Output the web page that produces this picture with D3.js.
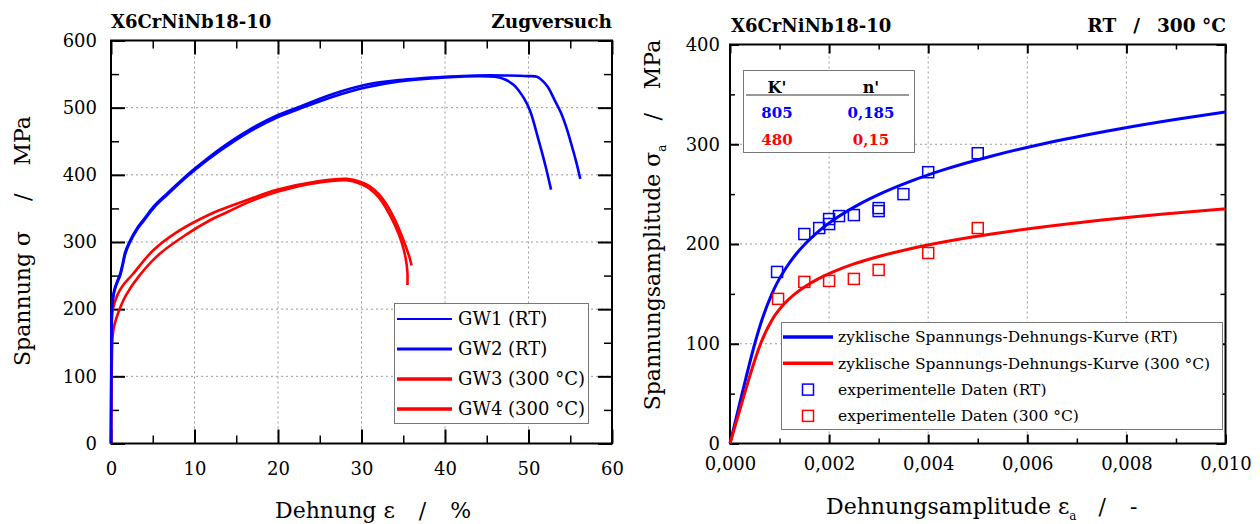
<!DOCTYPE html>
<html>
<head>
<meta charset="utf-8">
<script src="https://cdn.jsdelivr.net/npm/d3@7"></script>
<style>
  body { margin: 0; background: #fff; }
  svg text { font-family: "DejaVu Serif", serif; fill: #000; }
</style>
</head>
<body>
<svg width="1260" height="524"></svg>
<script>
// ---- data: tensile tests (strain %, stress MPa)
const gw1 = [[0,0],[0.03,100],[0.08,180],[0.15,205],[0.3,220],[0.5,231],[0.8,241],[1.1,250],[1.4,265],[1.7,282],
  [2.2,298],[3.2,320],[4,333],[5.2,352],[6.7,370],[8.7,393],[10,407],[13.2,437],[16.4,463],[20,486],[22.5,498],
  [26.5,516],[30.5,530],[34.5,539],[40,545],[44,547],[46,546],[47.2,542],[48.2,534],[48.8,526],[49.5,513],
  [50.2,495],[51.2,452],[52,415],[52.7,378]];
const gw2 = [[0,0],[0.03,110],[0.08,190],[0.15,210],[0.3,223],[0.5,233],[0.8,243],[1.1,253],[1.4,268],[1.7,285],
  [2.2,300],[3.2,322],[4,335],[5.2,354],[6.7,372],[8.7,395],[10,409],[13.2,440],[16.4,466],[20,489],[22.5,501],
  [26.5,520],[30.5,534],[34.5,541],[40,546],[44,548],[47,548],[50,547],[51,546],[51.6,541],[52.3,531],
  [53.1,512],[53.9,492],[54.6,468],[55.1,447],[55.7,420],[56.2,394]];
const gw3 = [[0,0],[0.1,120],[0.2,160],[0.4,176],[1,199],[1.8,221],[3.4,250],[5.8,282],[9,311],[11.8,332],
  [14,345],[16.4,359],[20,375],[24.6,388],[28.2,392],[30,386],[31,379],[32.1,366],[33,349],[34,325],
  [34.8,300],[35.3,275],[35.5,255],[35.5,236]];
const gw4 = [[0,0],[0.05,130],[0.1,180],[0.2,199],[0.8,222],[1.4,235],[2.6,252],[5,287],[7.8,314],[11.8,341],
  [14,352],[16.4,363],[20,378],[24.6,390],[28.2,394],[30,389],[31,383],[32.1,371],[33,356],[34,333],
  [34.8,310],[35.4,290],[35.8,275],[36,265]];
const gwNames = ['GW1 (RT)', 'GW2 (RT)', 'GW3 (300 °C)', 'GW4 (300 °C)'];

// ---- data: cyclic stress-strain curves (strain amplitude, stress amplitude MPa)
const cscRtStrain = [0,0.000244,0.0005,0.000652,0.000846,0.000941,0.001116,0.001335,0.001515,0.001724,0.002116,
  0.002614,0.00302,0.0036,0.004351,0.00527,0.006283,0.007817,0.009015,0.01];
const cscRtStress = [0,50,100,125,150,160,175,190,200,210,225,240,250,262,275,288,300,315,325,332.4];
const csc300Strain = [0,0.000294,0.000445,0.000617,0.000862,0.001095,0.00131,0.001535,0.00178,0.00208,0.0025,
  0.00304,0.00362,0.00431,0.00528,0.00716,0.00876,0.01];
const csc300Stress = [0,50,75,100,125,140,150,158,165,172,180,188,195,202,210,222,230,235.2];
const expRtStrain = [0.00095,0.0015,0.0018,0.002,0.002,0.0022,0.0025,0.003,0.003,0.0035,0.004,0.005];
const expRtStress = [172,210,216,220,225,228,229,233,236,250,272,291];
const exp300Strain = [0.00097,0.0015,0.002,0.0025,0.003,0.004,0.005];
const exp300Stress = [145,162,163,165,174,191,216];
const tableHead = ["K'", "n'"];
const tableRows = [['805', '0,185'], ['480', '0,15']];
const cycNames = ['zyklische Spannungs-Dehnungs-Kurve (RT)', 'zyklische Spannungs-Dehnungs-Kurve (300 °C)',
  'experimentelle Daten (RT)', 'experimentelle Daten (300 °C)'];

const blue = '#0000ff', red = '#ff0000';
const FONT = '"DejaVu Serif", serif';
const svg = d3.select('svg');

// frame with grid, inward ticks on all sides
function drawFrame(g, x, y, o) {
  const [x0, x1] = x.range(), [y0, y1] = y.range();
  const grid = g.append('g').attr('stroke', '#999').attr('stroke-dasharray', '2,3').attr('stroke-width', 1);
  grid.selectAll('.gx').data(o.xGrid).join('line')
    .attr('x1', d => x(d)).attr('x2', d => x(d)).attr('y1', y0).attr('y2', y1);
  grid.selectAll('.gy').data(o.yGrid).join('line')
    .attr('y1', d => y(d)).attr('y2', d => y(d)).attr('x1', x0).attr('x2', x1);

  const sides = [
    [d3.axisBottom(x), `translate(0,${y0})`, o.xMajor, o.xMinor],
    [d3.axisTop(x), `translate(0,${y1})`, o.xMajor, o.xMinor],
    [d3.axisLeft(y), `translate(${x0},0)`, o.yMajor, o.yMinor],
    [d3.axisRight(y), `translate(${x1},0)`, o.yMajor, o.yMinor]
  ];
  sides.forEach(([axis, tr, major, minor]) => {
    [[minor, o.minorLen, 1.5], [major, o.majorLen, 2]].forEach(([vals, len, w]) => {
      const a = g.append('g').attr('transform', tr)
        .call(axis.tickValues(vals).tickSize(-len).tickFormat(''));
      a.select('.domain').remove();
      a.selectAll('line').attr('stroke-width', w);
    });
  });

  const bx = g.append('g').attr('transform', `translate(0,${y0})`)
    .call(d3.axisBottom(x).tickValues(o.xLabels).tickSize(0).tickPadding(o.xPad).tickFormat(o.xFmt));
  const by = g.append('g').attr('transform', `translate(${x0},0)`)
    .call(d3.axisLeft(y).tickValues(o.yLabels).tickSize(0).tickPadding(o.yPad));
  [bx, by].forEach(a => {
    a.attr('font-family', FONT);
    a.select('.domain').remove();
    a.selectAll('text').attr('font-size', 18).attr('font-family', FONT);
  });

  g.append('rect').attr('x', x0).attr('y', y1).attr('width', x1 - x0).attr('height', y0 - y1)
    .attr('fill', 'none').attr('stroke', '#000').attr('stroke-width', 2);
}

// ================= left: tensile test
const xL = d3.scaleLinear([0, 60], [111, 612]);
const yL = d3.scaleLinear([0, 600], [443.5, 40.5]);
const gL = svg.append('g').attr('font-family', FONT);

drawFrame(gL, xL, yL, {
  xGrid: [10, 20, 30, 40, 50], yGrid: [100, 200, 300, 400, 500],
  xMajor: d3.range(0, 61, 10), xMinor: d3.range(5, 60, 10),
  yMajor: d3.range(0, 601, 100), yMinor: d3.range(50, 600, 100),
  xLabels: d3.range(0, 61, 10), yLabels: d3.range(0, 601, 100),
  majorLen: 14, minorLen: 8, xPad: 19, yPad: 14, xFmt: d3.format('d')
});

const lineL = d3.line().x(d => xL(d[0])).y(d => yL(d[1])).curve(d3.curveCatmullRom.alpha(0.5));
[[gw3, red], [gw4, red], [gw1, blue], [gw2, blue]].forEach(([d, c]) => {
  gL.append('path').attr('d', lineL(d)).attr('fill', 'none').attr('stroke', c)
    .attr('stroke-width', 2.6).attr('stroke-linejoin', 'round');
});

// legend
const legL = gL.append('g');
legL.append('rect').attr('x', 394.5).attr('y', 303.5).attr('width', 194).attr('height', 120)
  .attr('fill', '#fff').attr('stroke', '#777').attr('stroke-width', 1);
const legLColors = [blue, blue, red, red], legLWidths = [2, 2.8, 3.4, 3.4];
gwNames.forEach((name, i) => {
  const yy = 319 + i * 30;
  legL.append('line').attr('x1', 397).attr('x2', 452).attr('y1', yy).attr('y2', yy)
    .attr('stroke', legLColors[i]).attr('stroke-width', legLWidths[i]);
  legL.append('text').attr('x', 458).attr('y', yy).attr('dy', '0.35em').attr('font-size', 18).text(name);
});

// titles and axis labels
gL.append('text').attr('x', 111).attr('y', 28).attr('font-size', 18).attr('font-weight', 'bold').text('X6CrNiNb18-10');
gL.append('text').attr('x', 612).attr('y', 28).attr('font-size', 18.5).attr('font-weight', 'bold')
  .attr('text-anchor', 'end').text('Zugversuch');

const xlabL = gL.append('text').attr('x', 275).attr('y', 518).attr('font-size', 22);
xlabL.append('tspan').text('Dehnung ε');
xlabL.append('tspan').attr('dx', 24).text('/');
xlabL.append('tspan').attr('dx', 24).text('%');

const ylabL = gL.append('text').attr('transform', 'translate(30,241) rotate(-90)').attr('font-size', 22)
  .attr('text-anchor', 'middle');
ylabL.append('tspan').text('Spannung σ');
ylabL.append('tspan').attr('dx', 30).text('/');
ylabL.append('tspan').attr('dx', 28).text('MPa');

// ================= right: cyclic stress-strain
const xR = d3.scaleLinear([0, 0.01], [730, 1225.5]);
const yR = d3.scaleLinear([0, 400], [443.5, 44.5]);
const gR = svg.append('g').attr('font-family', FONT);
const deFmt = d3.formatLocale({decimal: ',', thousands: '.', grouping: [3], currency: ['', '€']}).format('.3f');

drawFrame(gR, xR, yR, {
  xGrid: [0.002, 0.004, 0.006, 0.008], yGrid: [100, 200, 300],
  xMajor: d3.range(0, 6).map(i => i * 0.002), xMinor: d3.range(0, 5).map(i => 0.001 + i * 0.002),
  yMajor: d3.range(0, 401, 100), yMinor: d3.range(50, 400, 100),
  xLabels: d3.range(0, 6).map(i => i * 0.002), yLabels: d3.range(0, 401, 100),
  majorLen: 9, minorLen: 5, xPad: 14, yPad: 10, xFmt: deFmt
});

const lineR = d3.line().x(d => xR(d[0])).y(d => yR(d[1])).curve(d3.curveMonotoneX);
[[cscRtStrain, cscRtStress, blue], [csc300Strain, csc300Stress, red]].forEach(([xs, ys, c]) => {
  gR.append('path').attr('d', lineR(xs.map((v, i) => [v, ys[i]]))).attr('fill', 'none')
    .attr('stroke', c).attr('stroke-width', 3);
});

const sq = 11;
[[expRtStrain, expRtStress, blue], [exp300Strain, exp300Stress, red]].forEach(([xs, ys, c]) => {
  gR.append('g').selectAll('rect').data(xs.map((v, i) => [v, ys[i]])).join('rect')
    .attr('x', d => xR(d[0]) - sq / 2).attr('y', d => yR(d[1]) - sq / 2)
    .attr('width', sq).attr('height', sq)
    .attr('fill', 'none').attr('stroke', c).attr('stroke-width', 1.5);
});

// parameter table
const tab = gR.append('g');
tab.append('rect').attr('x', 743.5).attr('y', 70.5).attr('width', 171).attr('height', 82)
  .attr('fill', '#fff').attr('stroke', '#777').attr('stroke-width', 1);
tab.append('line').attr('x1', 746).attr('x2', 909).attr('y1', 95).attr('y2', 95)
  .attr('stroke', '#777').attr('stroke-width', 1.5);
const colX = [777, 871];
tableHead.forEach((h, i) => {
  tab.append('text').attr('x', colX[i]).attr('y', 87).attr('dy', '0.35em').attr('text-anchor', 'middle')
    .attr('font-size', 16).attr('font-weight', 'bold').text(h);
});
tableRows.forEach((row, r) => {
  row.forEach((v, i) => {
    tab.append('text').attr('x', colX[i]).attr('y', 113 + r * 27).attr('dy', '0.35em')
      .attr('text-anchor', 'middle').attr('font-size', 15).attr('font-weight', 'bold')
      .style('fill', r === 0 ? blue : red).text(v);
  });
});

// legend
const legR = gR.append('g');
legR.append('rect').attr('x', 781.5).attr('y', 322.5).attr('width', 441).attr('height', 107)
  .attr('fill', '#fff').attr('stroke', '#777').attr('stroke-width', 1);
const legRColors = [blue, red, blue, red];
cycNames.forEach((name, i) => {
  const yy = 337 + i * 26.3;
  if (i < 2) {
    legR.append('line').attr('x1', 783).attr('x2', 833).attr('y1', yy).attr('y2', yy)
      .attr('stroke', legRColors[i]).attr('stroke-width', 3.5);
  } else {
    legR.append('rect').attr('x', 808 - sq / 2).attr('y', yy - sq / 2).attr('width', sq).attr('height', sq)
      .attr('fill', 'none').attr('stroke', legRColors[i]).attr('stroke-width', 1.5);
  }
  legR.append('text').attr('x', 838).attr('y', yy).attr('dy', '0.35em').attr('font-size', 15.5).text(name);
});

// titles and axis labels
gR.append('text').attr('x', 731).attr('y', 32).attr('font-size', 18).attr('font-weight', 'bold').text('X6CrNiNb18-10');
const tR = gR.append('text').attr('x', 1226).attr('y', 32).attr('font-size', 18.5).attr('font-weight', 'bold')
  .attr('text-anchor', 'end');
tR.append('tspan').text('RT');
tR.append('tspan').attr('dx', 17).text('/');
tR.append('tspan').attr('dx', 17).text('300 °C');

const xlabR = gR.append('text').attr('x', 826).attr('y', 514).attr('font-size', 22);
xlabR.append('tspan').text('Dehnungsamplitude ε');
xlabR.append('tspan').attr('dy', 6).attr('font-size', 12).text('a');
xlabR.append('tspan').attr('dy', -6).attr('dx', 22).text('/');
xlabR.append('tspan').attr('dx', 24).text('-');

const ylabR = gR.append('text').attr('transform', 'translate(660,225) rotate(-90)').attr('font-size', 22)
  .attr('text-anchor', 'middle');
ylabR.append('tspan').text('Spannungsamplitude σ');
ylabR.append('tspan').attr('dy', 6).attr('font-size', 12).text('a');
ylabR.append('tspan').attr('dy', -6).attr('dx', 24).text('/');
ylabR.append('tspan').attr('dx', 24).text('MPa');
</script>
</body>
</html>
